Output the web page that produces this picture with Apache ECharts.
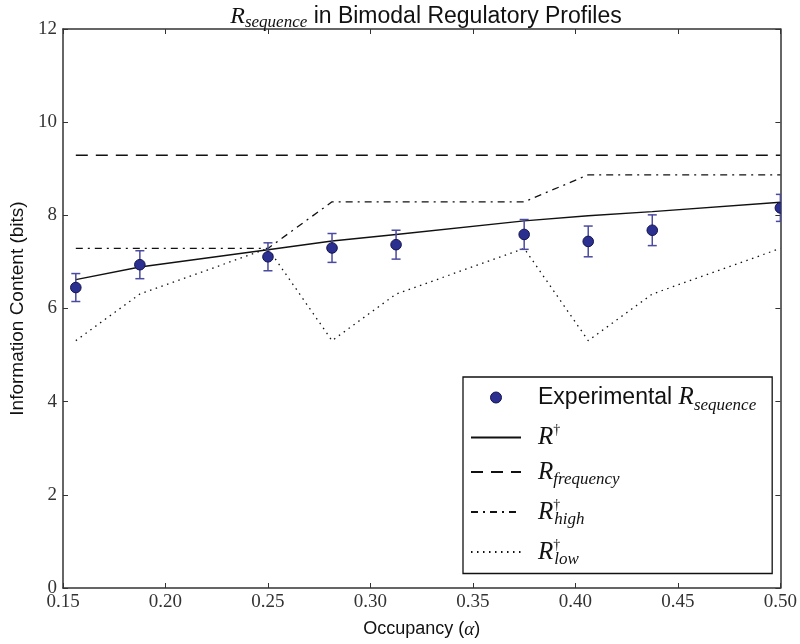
<!DOCTYPE html>
<html><head><meta charset="utf-8">
<script src="https://cdn.jsdelivr.net/npm/echarts@6/dist/echarts.min.js"></script>
<style>html,body{margin:0;padding:0;background:#fff}#c{width:800px;height:644px}</style>
</head><body><div id="c"></div>
<script>
// ---- data ----
const occupancy = [0.15625, 0.1875, 0.25, 0.28125, 0.3125, 0.375, 0.40625, 0.4375, 0.5];
const rSequence = [6.45, 6.94, 7.11, 7.30, 7.37, 7.59, 7.44, 7.68, 8.16];
const rSequenceErr = [0.30, 0.30, 0.30, 0.31, 0.31, 0.32, 0.33, 0.33, 0.29];
const rDagger = [6.62, 6.89, 7.26, 7.45, 7.59, 7.88, 7.99, 8.08, 8.28];
const rFrequency = [9.29, 9.29, 9.29, 9.29, 9.29, 9.29, 9.29, 9.29, 9.29];
const rHigh = [7.29, 7.29, 7.29, 8.29, 8.29, 8.29, 8.87, 8.87, 8.87];
const rLow = [5.31, 6.31, 7.29, 5.31, 6.31, 7.29, 5.31, 6.31, 7.29];
const seriesNames = ['Experimental R_sequence', 'R†', 'R_frequency', 'R†_high', 'R†_low'];
const legendRich = {
  'Experimental R_sequence': '{s|Experimental }{m|R}{sub|sequence}',
  'R†': '{m|R}{sup|†}',
  'R_frequency': '{m|R}{sub|frequency}',
  'R†_high': '{m|R}{sup|†}{subn|high}',
  'R†_low': '{m|R}{sup|†}{subn|low}'
};

const SANS = 'Liberation Sans';
const SERIF = 'Liberation Serif';
const INK = '#111';
const legendStyles = {
  s: {fontFamily: SANS, fontSize: 23, color: INK},
  m: {fontFamily: SERIF, fontStyle: 'italic', fontSize: 25, color: INK},
  sub: {fontFamily: SERIF, fontStyle: 'italic', fontSize: 17, color: INK, padding: [16, 0, 0, 0]},
  subn: {fontFamily: SERIF, fontStyle: 'italic', fontSize: 17, color: INK, padding: [16, 0, 0, -6]},
  sup: {fontFamily: SERIF, fontSize: 14, color: INK, padding: [0, 0, 14, 0]}
};
const titleStyles = {
  t: {fontFamily: SANS, fontSize: 23, fontWeight: 'normal', color: INK},
  m: {fontFamily: SERIF, fontStyle: 'italic', fontWeight: 'normal', fontSize: 24, color: INK},
  sub: {fontFamily: SERIF, fontStyle: 'italic', fontWeight: 'normal', fontSize: 17, color: INK, padding: [12, 0, 0, 0]}
};
const nameStyles = {
  n: {fontFamily: SANS, fontSize: 18, color: INK},
  a: {fontFamily: SERIF, fontStyle: 'italic', fontSize: 19, color: INK}
};

const chart = echarts.init(document.getElementById('c'), null, {renderer: 'canvas'});
const pairs = arr => occupancy.map((x, i) => [x, arr[i]]);
const axisCommon = {
  type: 'value',
  axisLine: {show: true, onZero: false, lineStyle: {color: '#333', width: 1.5}},
  axisTick: {show: true, inside: true, length: 5, lineStyle: {color: '#333', width: 1}},
  splitLine: {show: false}
};
const lineBase = {type: 'line', symbol: 'none', showSymbol: false, clip: true, z: 2};
const hiddenIcon = {itemStyle: {opacity: 0}};

chart.setOption({
  animation: false,
  backgroundColor: '#fff',
  title: {
    text: '{m|R}{sub|sequence}{t| in Bimodal Regulatory Profiles}',
    left: 421, top: -3, textAlign: 'center',
    textStyle: {fontWeight: 'normal', rich: titleStyles}
  },
  grid: {left: 58, right: 15, top: 29, bottom: 52, containLabel: false},
  legend: {
    orient: 'vertical', left: 463, top: 377,
    data: [
      {name: seriesNames[0], icon: 'circle', itemStyle: {color: '#2b2f8f', borderColor: '#15154f', borderWidth: 1}},
      Object.assign({name: seriesNames[1]}, hiddenIcon),
      Object.assign({name: seriesNames[2]}, hiddenIcon),
      Object.assign({name: seriesNames[3]}, hiddenIcon),
      Object.assign({name: seriesNames[4]}, hiddenIcon)
    ],
    itemWidth: 50, itemHeight: 11, itemGap: 9.5,
    padding: [8, 16, 5, 7],
    borderColor: INK, borderWidth: 1.3, borderRadius: 0,
    backgroundColor: '#fff',
    formatter: name => legendRich[name],
    textStyle: {rich: legendStyles, padding: [0, 0, 0, 12]}
  },
  xAxis: [
    Object.assign({}, axisCommon, {
      position: 'bottom', min: 0.15, max: 0.5, interval: 0.05,
      axisLabel: {formatter: v => v.toFixed(2), fontFamily: SERIF, fontSize: 19, color: '#333', margin: 5},
      name: '{n|Occupancy (}{a|α}{n|)}', nameLocation: 'middle', nameGap: 32,
      nameTextStyle: {rich: nameStyles}
    }),
    Object.assign({}, axisCommon, {
      position: 'top', min: 0.15, max: 0.5, interval: 0.05, axisLabel: {show: false}
    })
  ],
  yAxis: [
    Object.assign({}, axisCommon, {
      position: 'left', min: 0, max: 12, interval: 2,
      axisLabel: {fontFamily: SERIF, fontSize: 19, color: '#333', margin: 6},
      name: 'Information Content (bits)', nameLocation: 'middle', nameGap: 36,
      nameTextStyle: {fontFamily: SANS, fontSize: 19, color: INK}
    }),
    Object.assign({}, axisCommon, {
      position: 'right', min: 0, max: 12, interval: 2, axisLabel: {show: false}
    })
  ],
  series: [
    Object.assign({}, lineBase, {name: 'R†', data: pairs(rDagger), lineStyle: {color: INK, width: 1.4, type: 'solid'}}),
    Object.assign({}, lineBase, {name: 'R_frequency', data: pairs(rFrequency), lineStyle: {color: INK, width: 1.3, type: [12, 8]}}),
    Object.assign({}, lineBase, {name: 'R†_high', data: pairs(rHigh), lineStyle: {color: INK, width: 1.3, type: [7, 5, 2, 5]}}),
    Object.assign({}, lineBase, {name: 'R†_low', data: pairs(rLow), lineStyle: {color: INK, width: 1.3, type: [1.5, 4.5]}}),
    {
      name: 'Experimental R_sequence', type: 'custom', clip: true, z: 4,
      itemStyle: {color: '#2b2f8f'},
      data: occupancy.map((x, i) => [x, rSequence[i], rSequenceErr[i]]),
      encode: {x: 0, y: 1},
      renderItem: (params, api) => {
        const x = api.value(0), y = api.value(1), e = api.value(2);
        const t = api.coord([x, y + e]), b = api.coord([x, y - e]), c = api.coord([x, y]);
        const hw = 4.5;
        const st = {stroke: '#4a4aa0', lineWidth: 1.5};
        return {type: 'group', children: [
          {type: 'line', shape: {x1: t[0], y1: t[1], x2: b[0], y2: b[1]}, style: st},
          {type: 'line', shape: {x1: t[0] - hw, y1: t[1], x2: t[0] + hw, y2: t[1]}, style: st},
          {type: 'line', shape: {x1: b[0] - hw, y1: b[1], x2: b[0] + hw, y2: b[1]}, style: st},
          {type: 'circle', shape: {cx: c[0], cy: c[1], r: 5.3}, style: {fill: '#2b2f8f', stroke: '#15154f', lineWidth: 1}}
        ]};
      }
    }
  ]
});
</script>
</body></html>
